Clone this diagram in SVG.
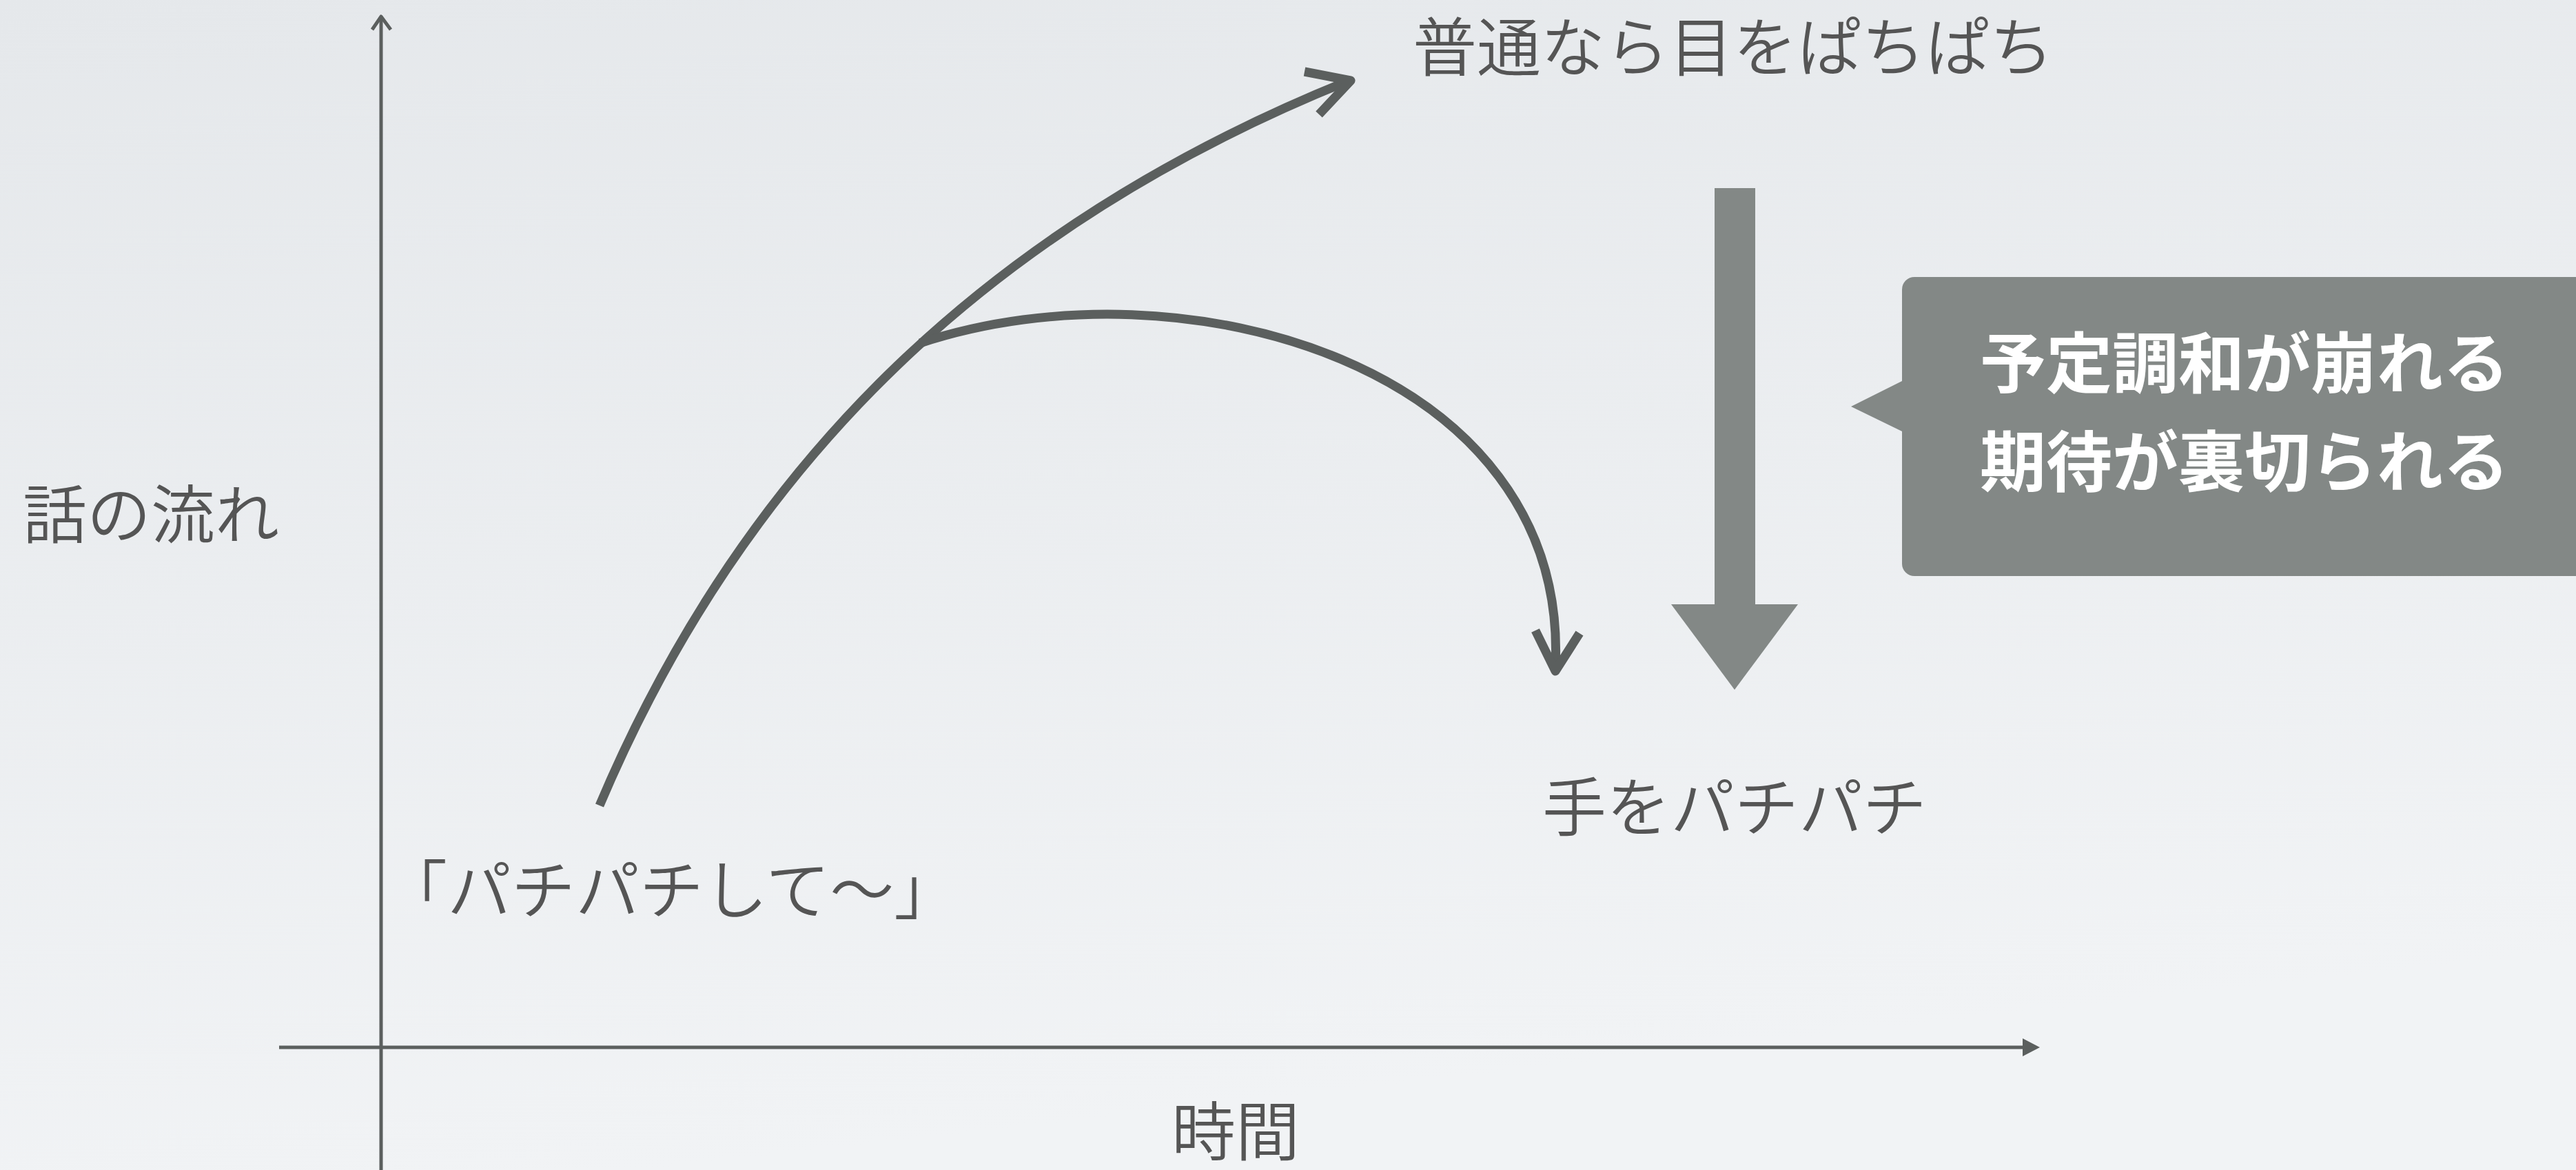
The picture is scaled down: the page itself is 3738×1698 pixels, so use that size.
<svg xmlns="http://www.w3.org/2000/svg" width="3738" height="1698" viewBox="0 0 3738 1698">
<defs>
<linearGradient id="bg" x1="0" y1="0" x2="0.25" y2="1">
<stop offset="0" stop-color="#e5e8eb"/>
<stop offset="1" stop-color="#f1f3f5"/>
</linearGradient>
<style>
.lbl{font-family:"Noto Sans CJK JP","Noto Sans CJK SC",sans-serif;font-size:93px;font-weight:350;fill:#555555}
.call{font-family:"Noto Sans CJK JP","Noto Sans CJK SC",sans-serif;font-size:96px;font-weight:700;fill:#ffffff;text-anchor:middle}
.axis{stroke:#5b5f5e;stroke-width:5;fill:none}
.curve{stroke:#5b5f5e;stroke-width:13;fill:none;stroke-linejoin:round}
.gray{fill:#838886}
</style>
</defs>
<rect width="3738" height="1698" fill="url(#bg)"/>

<g id="connectors">
<g id="y-axis">
<line class="axis" x1="553" y1="1698" x2="553" y2="24"/>
<polyline class="axis" points="540,43 553,24 567,43" stroke-linejoin="round"/>
</g>
<g id="x-axis">
<line class="axis" x1="405" y1="1520" x2="2940" y2="1520"/>
<polygon points="2935,1507 2960,1520 2935,1533" fill="#5b5f5e"/>
</g>
<g id="curve-expected">
<path class="curve" d="M870,1169 C1084,663 1445,324 1955,118"/>
<polyline class="curve" points="1893,104 1960,117 1914,166"/>
</g>
<g id="curve-actual">
<path class="curve" d="M1335,498 C1715,372 2278,530 2257,968"/>
<polyline class="curve" points="2228,915 2257,974 2292,919"/>
</g>
<g id="big-arrow">
<rect class="gray" x="2488" y="273" width="59" height="606"/>
<polygon class="gray" points="2425,877 2609,877 2517,1001"/>
</g>
</g>

<g id="node-y-label"><text class="lbl" x="33" y="781">話の流れ</text></g>
<g id="node-x-label"><text class="lbl" x="1700" y="1677">時間</text></g>
<g id="node-start"><text class="lbl" x="556" y="1326">「パチパチして〜」</text></g>
<g id="node-expected"><text class="lbl" x="2050" y="103">普通なら目をぱちぱち</text></g>
<g id="node-actual"><text class="lbl" x="2238" y="1206">手をパチパチ</text></g>

<g id="node-callout">
<rect class="gray" x="2760" y="402" width="1010" height="434" rx="18"/>
<polygon class="gray" points="2762,552 2686,590 2762,627"/>
<text class="call" x="3257" y="562">予定調和が崩れる</text>
<text class="call" x="3257" y="705">期待が裏切られる</text>
</g>
</svg>
